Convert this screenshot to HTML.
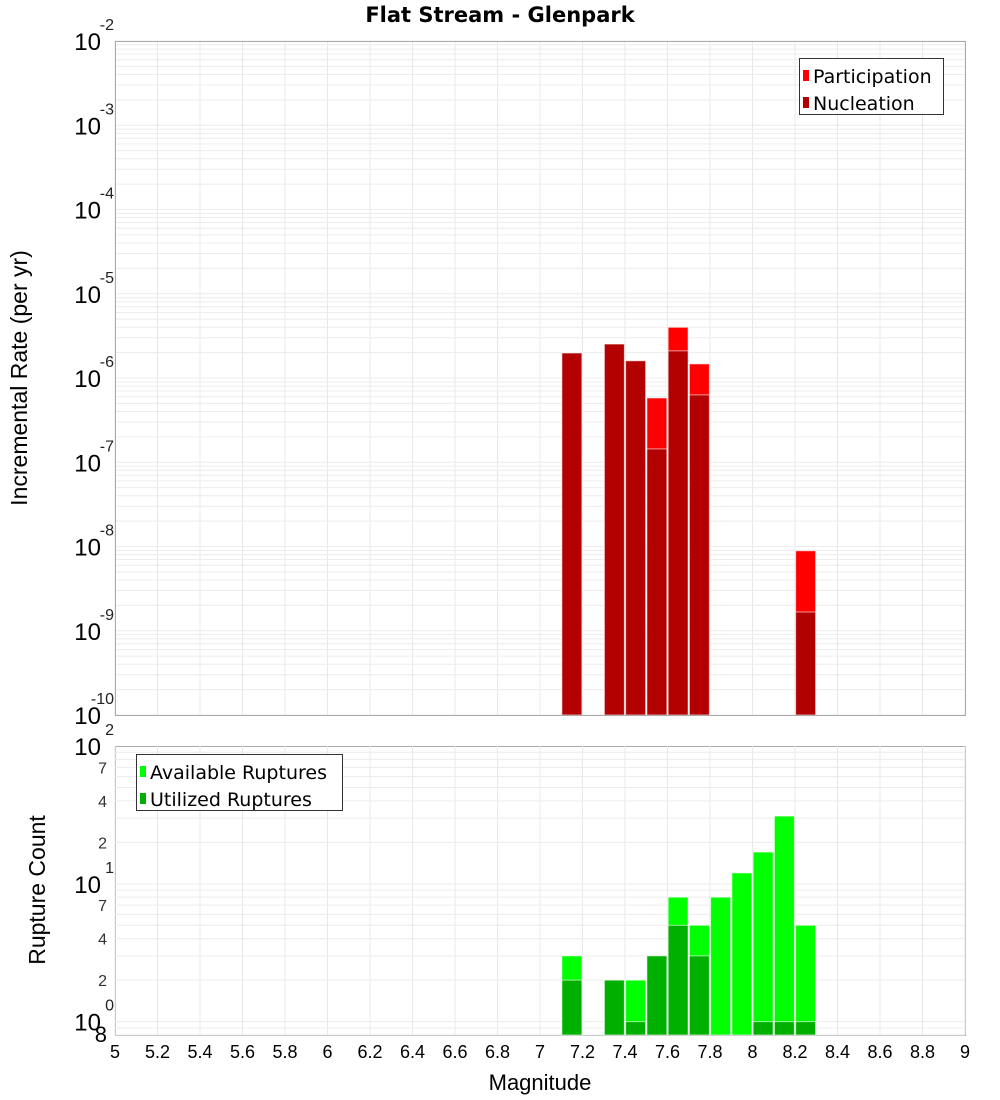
<!DOCTYPE html>
<html><head><meta charset="utf-8"><style>body{margin:0;background:#fff}svg{display:block;font-family:"Liberation Sans","DejaVu Sans",sans-serif}</style></head>
<body>
<svg id="chart" width="1000" height="1100" viewBox="0 0 1000 1100" xmlns="http://www.w3.org/2000/svg">
<rect width="1000" height="1100" fill="#fff"/>
<text x="500" y="22" text-anchor="middle" font-size="21" font-weight="bold" font-family="DejaVu Sans, sans-serif">Flat Stream - Glenpark</text>
<g id="topPlot"></g>
<g id="botPlot"></g>
</svg>
<script>
const rateBins = [7.1, 7.3, 7.4, 7.5, 7.6, 7.7, 8.2];
const participation = [1.98e-6, 2.53e-6, 1.6e-6, 5.8e-7, 4.0e-6, 1.47e-6, 8.9e-9];
const nucleation = [1.98e-6, 2.53e-6, 1.6e-6, 1.44e-7, 2.1e-6, 6.3e-7, 1.67e-9];
const countBins = [7.1, 7.3, 7.4, 7.5, 7.6, 7.7, 7.8, 7.9, 8.0, 8.1, 8.2];
const available = [3, 2, 2, 3, 8, 5, 8, 12, 17, 31, 5];
const utilized = [2, 2, 1, 3, 5, 3, 0, 0, 1, 1, 1];
const xTicks = [5,5.2,5.4,5.6,5.8,6,6.2,6.4,6.6,6.8,7,7.2,7.4,7.6,7.8,8,8.2,8.4,8.6,8.8,9];
const xTickLabels = ["5","5.2","5.4","5.6","5.8","6","6.2","6.4","6.6","6.8","7","7.2","7.4","7.6","7.8","8","8.2","8.4","8.6","8.8","9"];
const topExps = [-2,-3,-4,-5,-6,-7,-8,-9,-10];
const botMinorLabels = [2,4,7];

const NS='http://www.w3.org/2000/svg';
const L=115,R=965;
const X=m=>L+(m-5)/(9-5)*(R-L);
const T1=41,B1=715, yTop=v=>T1+(-2-Math.log10(v))/8*(B1-T1);
const T2=746,B2=1035, lmin=Math.log10(0.8), yBot=v=>T2+(2-Math.log10(v))/(2-lmin)*(B2-T2);
function el(p,tag,a,txt){const e=document.createElementNS(NS,tag);for(const k in a)e.setAttribute(k,a[k]);if(txt!==undefined)e.textContent=txt;p.appendChild(e);return e;}
const topG=document.getElementById('topPlot'),botG=document.getElementById('botPlot');

function grid(g,T,B,yf,dmin,dmax,vmin){
  xTicks.forEach(t=>{const gl=el(g,'line',{x1:X(t),x2:X(t),y1:T,y2:B,stroke:'#e8e8e8'});
    
    });
  for(let d=dmin;d<dmax;d++)for(let k=1;k<10;k++){const v=k*Math.pow(10,d);if(v<vmin)continue;const y=yf(v);if(y<T-0.5||y>B)continue;const gl=el(g,'line',{x1:L,x2:R,y1:y,y2:y,stroke:'#ececec'});
    
    }
}
grid(topG,T1,B1,yTop,-10,-1,0);
grid(botG,T2,B2,yBot,-1,2,0.8);
const bw=0.1;
function bar(g,m,v,yf,B,fill,name){if(v<=0)return;const x0=X(m+0.003),x1=X(m+bw-0.003);const y=yf(v);const r=el(g,'rect',{x:x0,y:y,width:x1-x0,height:B-y,fill:fill,stroke:'rgba(255,255,255,0.6)','stroke-width':1});
  
  }
rateBins.forEach((m,i)=>bar(topG,m,participation[i],yTop,B1,'#ff0000','participation-bar'));
rateBins.forEach((m,i)=>bar(topG,m,nucleation[i],yTop,B1,'#b30000','nucleation-bar'));
countBins.forEach((m,i)=>bar(botG,m,available[i],yBot,B2,'#00ff00','available-bar'));
countBins.forEach((m,i)=>bar(botG,m,utilized[i],yBot,B2,'#00b000','utilized-bar'));
[[T1,B1],[T2,B2]].forEach(([t,b])=>{const f=el(topG,'rect',{x:L+0.5,y:t+0.5,width:R-L,height:b-t,fill:'none',stroke:'#aaa'});
  
  });

function pow(g,yb,e,name){const a=el(g,'text',{x:101,y:yb,'text-anchor':'end','font-size':24},'10');
  
  
  const b=el(g,'text',{x:114,y:yb-20,'text-anchor':'end','font-size':16,fill:'#222'},String(e));
  
  }
topExps.forEach(e=>pow(topG,yTop(Math.pow(10,e))+9,e,'y-tick-label'));
[2,1,0].forEach(e=>pow(botG,yBot(Math.pow(10,e))+9,e,'y2-tick-label'));
[0,1].forEach(d=>botMinorLabels.forEach(k=>{const t=el(botG,'text',{x:107,y:yBot(k*Math.pow(10,d))+6,'text-anchor':'end','font-size':16,fill:'#333'},String(k));
  
  }));
{const t=el(botG,'text',{x:107,y:B2+7,'text-anchor':'end','font-size':22},'8');
  
  }
xTicks.forEach((t,i)=>{const tx=el(botG,'text',{x:X(t),y:1058,'text-anchor':'middle','font-size':18},xTickLabels[i]);
  
  });
{const t=el(botG,'text',{x:540,y:1090,'text-anchor':'middle','font-size':22},'Magnitude');
  
  }
{const t=el(topG,'text',{x:0,y:0,'text-anchor':'middle','font-size':23,transform:'translate(27,378) rotate(-90)'},'Incremental Rate (per yr)');
  
  }
{const t=el(botG,'text',{x:0,y:0,'text-anchor':'middle','font-size':23,transform:'translate(45,890) rotate(-90)'},'Rupture Count');
  
  }
function legend(g,x,y,w,items,name){const lg=el(g,'g',{});
  
  
  el(lg,'rect',{x:x+0.5,y:y+0.5,width:w,height:56,fill:'#fff',stroke:'#333'});
  items.forEach(([c,lab],i)=>{const yy=y+18+i*27;el(lg,'rect',{x:x+4,y:yy-6,width:6,height:11,fill:c});const t=el(lg,'text',{x:x+14,y:yy+7,'font-size':19,'font-family':'DejaVu Sans, sans-serif'},lab);
    
    });}
legend(topG,799,58,144,[['#ff0000','Participation'],['#b30000','Nucleation']],'rate-legend');
legend(botG,136,754,206,[['#00ff00','Available Ruptures'],['#00b000','Utilized Ruptures']],'count-legend');
</script>
</body></html>
